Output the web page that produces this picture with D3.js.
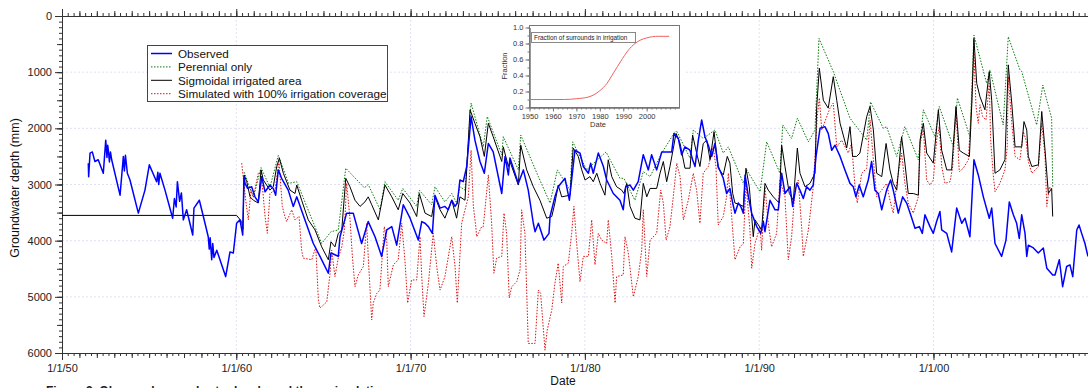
<!DOCTYPE html>
<html>
<head>
<meta charset="utf-8">
<script src="https://cdn.jsdelivr.net/npm/d3@7"></script>
<style>
  body { margin: 0; background: #fff; }
  svg { display: block; font-family: "Liberation Sans", Arial, sans-serif; }
</style>
</head>
<body>
<div id="chart"></div>
<script>
// series are [decimal year, depth in mm]
var observed = [
  [1951.51,2620],[1951.53,2860],[1951.61,2440],[1951.74,2420],[1951.89,2590],[1952.08,2560],[1952.37,2800],
  [1952.51,2210],[1952.58,2520],[1952.62,2300],[1952.66,2390],[1952.72,2600],[1952.78,2420],[1952.85,2560],
  [1953.33,3190],[1953.52,2500],[1953.58,2760],[1953.64,2480],[1953.75,2800],[1953.90,2920],[1954.38,3510],
  [1954.76,3100],[1955.01,2650],[1955.43,2950],[1955.50,2780],[1955.55,3000],[1955.62,2800],[1955.91,3100],
  [1956.35,3600],[1956.45,3250],[1956.55,3400],[1956.62,2950],[1956.75,3300],[1956.85,3150],[1956.96,3630],
  [1957.15,3450],[1957.50,3900],[1957.57,3420],[1957.88,3280],[1958.11,3570],[1958.39,3930],[1958.45,4150],
  [1958.50,3950],[1958.59,4340],[1958.65,4050],[1958.72,4300],[1958.88,4170],[1959.39,4640],[1959.64,4200],
  [1959.83,4220],[1960.02,3690],[1960.21,3630],[1960.37,3900],[1960.44,2860],
  [1960.50,2980],[1960.65,3070],[1960.88,3040],[1961.07,3220],[1961.26,3310],[1961.46,2860],[1961.65,3130],
  [1961.93,3010],[1962.12,3070],[1962.26,3190],[1962.41,2740],[1962.60,2890],[1962.98,3100],[1963.27,3390],
  [1963.47,3220],[1963.94,3630],[1964.42,4050],[1964.80,4280],[1965.28,4580],[1965.43,4220],[1965.66,4250],
  [1965.85,4280],[1965.95,3930],[1966.33,3510],[1966.71,3510],[1967.19,4050],[1967.57,3660],[1967.96,3930],
  [1968.34,4280],[1968.63,3810],[1968.92,3750],[1969.20,4080],[1969.58,3360],[1969.97,3600],[1970.44,3990],
  [1970.64,3660],[1970.83,3690],[1971.02,3750],[1971.25,3870],[1971.40,3190],[1971.69,3420],[1971.97,3390],
  [1972.16,3450],[1972.36,3280],[1972.55,3390],[1972.68,3330],[1972.83,2920],[1973.02,2950],[1973.22,2680],
  [1973.47,1790],[1973.69,2210],[1973.98,2590],[1974.23,2800],[1974.46,2270],[1974.74,2420],[1975.23,3160],
  [1975.42,2500],[1975.61,2830],[1975.70,2530],[1976.18,2980],[1976.47,2740],[1976.75,3100],[1977.04,3690],
  [1977.14,3840],[1977.33,3690],[1977.65,3990],[1977.94,3870],[1978.00,3570],[1978.28,3220],[1978.47,3040],
  [1978.86,2890],[1979.11,3280],[1979.43,2390],[1979.72,2440],[1979.91,2680],[1980.20,2800],[1980.33,2620],
  [1980.48,2800],[1980.77,2440],[1981.06,2680],[1981.25,2920],[1981.63,3160],[1982.01,3280],[1982.20,3450],
  [1982.34,3040],[1982.59,3010],[1982.78,3100],[1983.06,2950],[1983.35,2470],[1983.64,2740],[1983.83,2470],
  [1984.12,2740],[1984.41,2420],[1984.69,2420],[1984.98,2420],[1985.11,2090],[1985.36,2180],[1985.55,2470],
  [1985.74,2330],[1986.03,2390],[1986.18,2560],[1986.32,2680],[1986.51,2210],[1986.70,1850],[1986.89,2150],
  [1987.08,2300],[1987.28,2500],[1987.46,2270],[1987.65,2680],[1987.94,2890],[1988.13,3160],[1988.32,3070],
  [1988.48,3330],[1988.61,3510],[1988.80,3330],[1988.94,3390],[1989.09,3510],[1989.19,2830],[1989.38,3220],
  [1989.57,3510],[1989.86,3750],[1990.09,3870],[1990.24,3660],[1990.33,3840],[1990.62,3280],[1990.91,3450],
  [1991.10,3450],[1991.29,2800],[1991.48,3160],[1991.77,3040],[1991.92,3390],[1992.15,2980],[1992.34,3100],
  [1992.53,3250],[1992.72,3040],[1992.91,3100],[1993.10,3010],[1993.26,2500],[1993.49,2000],[1993.77,1970],
  [1993.96,2090],[1994.16,2390],[1994.35,2300],[1994.64,2500],[1994.92,2740],[1995.21,2980],[1995.40,3040],
  [1995.55,3220],[1995.74,3010],[1995.97,3220],[1996.26,2920],[1996.45,2590],[1996.64,3100],[1996.83,3160],
  [1997.03,3450],[1997.31,3100],[1997.54,2920],[1997.69,3100],[1997.98,3510],[1998.23,3220],[1998.46,3330],
  [1998.69,3540],[1998.94,3780],[1999.19,3750],[1999.36,3870],[1999.51,3540],[1999.80,3750],[1999.99,3870],
  [2000.18,3660],[2000.37,3480],[2000.47,3810],[2000.76,3870],[2001.04,4200],[2001.33,3420],[2001.62,3690],
  [2001.81,3600],[2002.09,3930],[2002.32,2560],[2002.57,2830],[2002.86,3220],[2003.20,3600],[2003.34,3420],
  [2003.53,4050],[2003.91,4280],[2004.16,3990],[2004.35,3310],[2004.58,3540],[2004.77,3690],[2004.92,3960],
  [2005.06,3540],[2005.25,3870],[2005.35,4280],[2005.44,4080],[2005.73,4130],[2006.01,4220],[2006.30,4130],
  [2006.50,4490],[2006.84,4610],[2006.97,4610],[2007.22,4340],[2007.41,4820],[2007.64,4460],[2007.83,4430],
  [2007.99,4640],[2008.22,3810],[2008.35,3720],[2008.50,3870],[2008.69,4050],[2008.86,4280]
];

var perennial = [
  [1960.45,2780],[1960.98,3230],[1961.42,2700],[1961.93,3050],[1962.41,2480],[1963.00,2980],[1963.47,2950],
  [1964.90,4050],[1965.43,3840],[1965.85,3810],[1966.28,2710],[1967.35,3060],[1967.57,3000],[1968.25,3450],
  [1968.53,2950],[1969.29,3280],[1969.55,3070],[1970.35,3390],[1970.50,3100],[1971.21,3360],[1971.40,3040],
  [1971.97,3310],[1972.36,3160],[1972.64,3330],[1972.83,3040],[1973.12,3100],[1973.47,1550],[1974.17,2330],
  [1974.40,1790],[1975.23,2470],[1975.32,2150],[1976.18,2740],[1976.32,2120],[1977.33,2860],[1978.00,3330],
  [1978.42,2740],[1979.15,3100],[1979.30,2240],[1980.10,2740],[1981.21,2420],[1982.01,2890],[1982.24,2890],
  [1982.87,3280],[1983.35,2770],[1983.74,2860],[1984.41,2440],[1985.23,2030],[1986.03,2530],[1986.22,2030],
  [1986.79,2180],[1987.46,2030],[1987.94,2440],[1988.23,2330],[1989.09,2980],[1989.28,2740],[1990.05,3130],
  [1990.43,2240],[1991.19,2800],[1991.35,1940],[1991.86,2180],[1992.19,1820],[1992.82,2240],[1993.20,2030],
  [1993.43,400],[1994.25,990],[1995.21,1820],[1996.17,2210],[1996.39,1530],[1997.12,2000],[1997.31,1970],
  [1997.89,2500],[1998.36,1970],[1999.13,2560],[1999.42,1670],[2000.09,2150],[2000.33,1610],[2001.14,2330],
  [2001.37,1460],[2002.09,2150],[2002.32,340],[2003.05,1200],[2003.24,960],[2004.00,1940],[2004.29,370],
  [2004.96,960],[2005.06,990],[2005.92,1940],[2006.27,1230],[2006.78,1820],[2006.84,3040]
];

var sigmoidal = [
  [1950.00,3550],[1960.02,3550],[1960.31,3660],[1960.38,3800],[1960.45,2830],[1960.60,2950],[1960.79,3220],
  [1960.98,3280],[1961.26,3330],[1961.42,2740],[1961.55,2920],[1961.74,3010],[1961.93,3100],[1962.12,3040],
  [1962.32,2680],[1962.47,2530],[1962.70,2800],[1963.08,3100],[1963.37,3160],[1963.47,3010],[1963.75,3280],
  [1964.13,3630],[1964.52,3810],[1964.90,4110],[1965.28,4340],[1965.43,4020],[1965.66,4110],[1965.85,3870],
  [1966.05,3810],[1966.28,2890],[1966.52,3040],[1966.81,3280],[1967.10,3390],[1967.38,3310],[1967.57,3220],
  [1967.77,3360],[1968.15,3630],[1968.53,3010],[1968.92,3220],[1969.29,3450],[1969.55,3160],[1969.97,3330],
  [1970.35,3570],[1970.50,3160],[1970.83,3510],[1971.21,3570],[1971.40,3220],[1971.69,3450],[1971.97,3600],
  [1972.36,3280],[1972.64,3600],[1972.83,3220],[1973.12,3280],[1973.41,1670],[1973.69,1910],[1973.98,2150],
  [1974.23,2500],[1974.46,1910],[1974.74,2150],[1975.23,2590],[1975.32,2330],[1975.61,2680],[1975.70,2590],
  [1976.18,3010],[1976.32,2300],[1976.66,2740],[1977.04,3040],[1977.42,3280],[1977.81,3600],[1978.10,3570],
  [1978.28,3330],[1978.47,3010],[1978.67,3220],[1979.15,3190],[1979.33,2350],[1979.62,2500],[1979.82,2740],
  [1980.01,2920],[1980.29,2860],[1980.48,2950],[1980.68,2800],[1980.87,2980],[1981.15,3190],[1981.34,2560],
  [1981.54,2860],[1981.82,3040],[1982.11,3100],[1982.24,3160],[1982.40,2980],[1982.59,3390],[1982.87,3600],
  [1983.16,3630],[1983.35,2980],[1983.55,3220],[1983.74,3070],[1984.12,3070],[1984.31,2800],[1984.50,2590],
  [1984.69,2950],[1984.88,2680],[1985.23,2090],[1985.46,2270],[1985.74,2710],[1986.03,2710],[1986.18,2120],
  [1986.41,2440],[1986.60,2680],[1986.79,2270],[1986.99,2210],[1987.18,2560],[1987.41,2060],[1987.65,2710],
  [1987.94,2830],[1988.17,2500],[1988.32,2620],[1988.48,3160],[1988.61,3330],[1988.90,3360],[1989.09,3390],
  [1989.24,2710],[1989.43,3040],[1989.57,3570],[1989.66,3930],[1989.76,3630],[1989.95,3720],[1990.14,3810],
  [1990.33,2980],[1990.52,3100],[1990.81,3220],[1991.15,3330],[1991.29,2300],[1991.48,2680],[1991.73,3160],
  [1991.96,3280],[1992.19,2350],[1992.34,2800],[1992.63,3040],[1992.91,2980],[1993.20,2800],[1993.30,1610],
  [1993.45,930],[1993.68,1500],[1993.96,1640],[1994.25,1080],[1994.45,1500],[1994.64,1910],[1995.02,2350],
  [1995.21,1970],[1995.36,2500],[1995.59,2500],[1995.78,2440],[1996.17,1790],[1996.36,1610],[1996.55,2030],
  [1996.74,2800],[1997.03,2860],[1997.28,2270],[1997.50,2740],[1997.69,2980],[1997.89,3100],[1998.17,2150],
  [1998.36,2620],[1998.55,3160],[1998.84,3160],[1999.13,3190],[1999.23,2210],[1999.42,1910],[1999.61,2440],
  [1999.99,2620],[2000.28,1670],[2000.47,2390],[2000.76,2740],[2001.04,2740],[2001.29,1610],[2001.48,2390],
  [2001.71,2440],[2002.06,2500],[2002.20,1550],[2002.32,400],[2002.48,1200],[2002.67,1440],[2002.95,1670],
  [2003.20,990],[2003.34,1500],[2003.53,2800],[2003.81,2740],[2004.10,2560],[2004.29,870],[2004.49,1550],
  [2004.68,2330],[2005.06,2330],[2005.19,1880],[2005.35,2030],[2005.44,2500],[2005.64,2680],[2006.02,2650],
  [2006.21,1700],[2006.40,2390],[2006.59,3160],[2006.78,3070],[2006.84,3570]
];

var fullIrrigation = [
  [1960.31,2620],[1960.54,3280],[1960.69,3630],[1960.84,3100],[1960.98,3220],[1961.26,2800],[1961.42,2770],
  [1961.65,3570],[1961.78,3870],[1961.93,3160],[1962.22,3100],[1962.45,2590],[1962.64,3390],[1962.79,3570],
  [1962.89,3660],[1963.18,3450],[1963.37,3630],[1963.60,3570],[1963.75,4170],[1963.84,4310],[1964.33,4340],
  [1964.56,4110],[1964.71,5060],[1964.80,5200],[1965.19,5090],[1965.38,4580],[1965.47,4170],[1965.66,4640],
  [1965.85,4310],[1966.05,4110],[1966.20,3810],[1966.33,2980],[1966.52,3600],[1966.66,4280],[1966.81,4820],
  [1967.00,4610],[1967.29,4460],[1967.48,3690],[1967.57,4280],[1967.77,5410],[1967.86,5110],[1968.06,4940],
  [1968.24,4880],[1968.49,3750],[1968.63,3990],[1968.72,4820],[1969.01,4430],[1969.29,4340],[1969.49,3690],
  [1969.68,4370],[1969.83,5110],[1970.06,4700],[1970.35,4700],[1970.54,3930],[1970.64,4640],[1970.77,5350],
  [1971.02,4760],[1971.30,3870],[1971.50,4460],[1971.69,4880],[1971.97,4640],[1972.36,3930],[1972.55,4460],
  [1972.68,5110],[1972.93,3690],[1973.31,3220],[1973.47,2390],[1973.60,3390],[1973.74,3750],[1973.79,3930],
  [1974.08,3750],[1974.17,3750],[1974.46,2830],[1974.65,3690],[1974.78,4580],[1974.94,4310],[1975.23,4280],
  [1975.36,3510],[1975.51,3870],[1975.66,5020],[1975.80,4820],[1976.09,4730],[1976.28,4520],[1976.37,3450],
  [1976.56,3870],[1976.75,5830],[1977.14,5830],[1977.33,4880],[1977.46,4940],[1977.71,5950],[1977.84,5590],
  [1978.10,5230],[1978.28,4760],[1978.47,4400],[1978.67,5110],[1978.76,4460],[1979.05,4400],[1979.24,3870],
  [1979.37,3390],[1979.53,4050],[1979.72,4730],[1979.91,4280],[1980.20,4280],[1980.39,3630],[1980.58,4430],
  [1980.77,3870],[1980.96,3990],[1981.25,4050],[1981.34,3630],[1981.54,4280],[1981.73,5110],[1981.82,4640],
  [1982.20,4610],[1982.30,3930],[1982.49,4220],[1982.78,5000],[1983.06,4640],[1983.26,4170],[1983.35,3450],
  [1983.55,4640],[1983.74,3990],[1984.12,3870],[1984.35,3100],[1984.50,3330],[1984.66,3990],[1984.88,3750],
  [1985.07,3220],[1985.27,2620],[1985.46,2860],[1985.65,3630],[1985.93,3280],[1986.22,2800],[1986.41,3100],
  [1986.60,3690],[1986.79,2800],[1987.08,2680],[1987.36,2330],[1987.52,2680],[1987.65,3720],[1987.94,3570],
  [1988.13,3220],[1988.23,2800],[1988.42,3570],[1988.61,4340],[1988.90,4110],[1989.09,4050],[1989.24,2980],
  [1989.47,3810],[1989.57,4490],[1989.76,4050],[1990.05,3750],[1990.14,4170],[1990.33,3040],[1990.52,3690],
  [1990.71,4110],[1991.00,3870],[1991.19,2920],[1991.48,3220],[1991.67,4340],[1991.86,3930],[1992.05,3100],
  [1992.24,2920],[1992.44,3780],[1992.53,4280],[1992.82,3810],[1993.10,3040],[1993.33,1790],[1993.45,1460],
  [1993.59,2030],[1994.06,1640],[1994.25,1550],[1994.45,2330],[1994.73,2210],[1995.11,2440],[1995.30,2270],
  [1995.50,3040],[1995.63,3330],[1995.88,2800],[1996.17,2710],[1996.36,1850],[1996.55,2560],[1996.74,3220],
  [1997.31,2980],[1997.50,3280],[1997.69,3510],[1997.89,2980],[1998.17,2440],[1998.36,2980],[1998.55,3330],
  [1998.84,3510],[1999.13,3220],[1999.23,2270],[1999.42,2030],[1999.61,2920],[1999.80,3010],[1999.99,2920],
  [2000.18,2210],[2000.33,1970],[2000.47,2680],[2000.66,2980],[2000.95,2950],[2001.10,2680],[2001.29,1670],
  [2001.48,2770],[2001.71,2710],[2002.00,2560],[2002.20,1500],[2002.32,660],[2002.44,1610],[2002.57,1910],
  [2002.67,1580],[2002.82,1790],[2003.01,1850],[2003.20,1200],[2003.28,2210],[2003.43,2830],[2003.53,3130],
  [2003.81,2980],[2004.10,2740],[2004.23,2330],[2004.29,1080],[2004.49,1910],[2004.68,2500],[2004.96,2560],
  [2005.15,2060],[2005.31,2210],[2005.44,2590],[2005.64,2800],[2006.02,2680],[2006.21,1910],[2006.40,2500],
  [2006.50,3390],[2006.65,3040],[2006.78,3100]
];

// inset: fraction of surrounds in irrigation
var fracYears  = [1950, 1955, 1960, 1965, 1970, 1975, 1980, 1983, 1986, 1989, 1992, 1995, 2000, 2005, 2009.6];
var fracValues = [0.10, 0.10, 0.10, 0.10, 0.11, 0.13, 0.21, 0.30, 0.44, 0.58, 0.71, 0.80, 0.87, 0.89, 0.89];

var decadeYears = [1950, 1960, 1970, 1980, 1990, 2000];
var depthTicks = [0, 1000, 2000, 3000, 4000, 5000, 6000];
var insetYearTicks = [1950, 1960, 1970, 1980, 1990, 2000];
var insetFracTicks = [0, 0.2, 0.4, 0.6, 0.8, 1.0];

var legendNames = ["Observed", "Perennial only", "Sigmoidal irrigated area", "Simulated with 100% irrigation coverage"];
var caption = "Figure 3. Observed groundwater levels and three simulations";

function toDate(yr) {
  var y0 = Math.floor(yr);
  var a = new Date(y0, 0, 1), b = new Date(y0 + 1, 0, 1);
  return new Date(+a + (yr - y0) * (b - a));
}

var width = 1088, height = 388;
var plot = {left: 62, top: 16, bottom: 353};

var svg = d3.select("#chart").append("svg")
  .attr("width", width).attr("height", height);

var x = d3.scaleTime()
  .domain([toDate(1950), toDate(2010)])
  .range([plot.left, plot.left + 6 * 174.3]);
var y = d3.scaleLinear().domain([0, 6000]).range([plot.top, plot.bottom]);

// grid
var grid = svg.append("g").attr("stroke", "#e0e0f7").attr("stroke-dasharray", "2,2");
grid.selectAll("line.v").data(decadeYears.slice(1)).enter().append("line")
  .attr("x1", function(d) { return x(toDate(d)); }).attr("x2", function(d) { return x(toDate(d)); })
  .attr("y1", plot.top).attr("y2", plot.bottom);
grid.selectAll("line.h").data(depthTicks.slice(1, 6)).enter().append("line")
  .attr("x1", plot.left).attr("x2", width)
  .attr("y1", function(d) { return y(d); }).attr("y2", function(d) { return y(d); });

// axes
var minorDates = d3.timeMonth.every(4).range(toDate(1950), toDate(2010.01));
var yearDates = d3.timeYear.range(toDate(1950), toDate(2010.01));
var decadeDates = decadeYears.map(toDate);
var fmt = d3.timeFormat("%-m/%-d/%y");

function styleAxis(g) {
  g.selectAll("path, line").attr("stroke", "#333");
  g.selectAll("text").attr("fill", "#222").style("font-size", "11px")
    .style("font-family", "'Liberation Sans', Arial, sans-serif");
}

[[d3.axisBottom, plot.bottom, true], [d3.axisTop, plot.top, false]].forEach(function(a) {
  var g = svg.append("g").attr("transform", "translate(0," + a[1] + ")");
  g.append("g").call(a[0](x).tickValues(minorDates).tickSize(3).tickSizeOuter(0).tickFormat(""));
  g.append("g").call(a[0](x).tickValues(yearDates).tickSize(5).tickSizeOuter(0).tickFormat(""));
  g.append("g").call(a[0](x).tickValues(decadeDates).tickSize(7).tickSizeOuter(0)
    .tickFormat(a[2] ? fmt : "").tickPadding(4));
  g.selectAll(".domain").filter(function(d, i) { return i > 0; }).remove();
  styleAxis(g);
});

var yAxis = svg.append("g").attr("transform", "translate(" + plot.left + ",0)");
yAxis.append("g").call(d3.axisLeft(y).tickValues(d3.range(0, 6001, 100)).tickSize(3).tickSizeOuter(0).tickFormat(""));
yAxis.append("g").call(d3.axisLeft(y).tickValues(d3.range(0, 6001, 500)).tickSize(5).tickSizeOuter(0).tickFormat(""));
yAxis.append("g").call(d3.axisLeft(y).tickValues(depthTicks).tickSize(7).tickSizeOuter(0)
  .tickFormat(d3.format("d")).tickPadding(3));
styleAxis(yAxis);

svg.append("text")
  .attr("transform", "translate(19,188) rotate(-90)")
  .attr("text-anchor", "middle").style("font-size", "12.5px").attr("fill", "#111")
  .text("Groundwater depth (mm)");
svg.append("text").attr("x", 563).attr("y", 385).attr("text-anchor", "middle")
  .style("font-size", "12px").attr("fill", "#111").text("Date");
svg.append("text").attr("x", 46).attr("y", 395)
  .style("font-size", "12px").style("font-weight", "bold").attr("fill", "#222").text(caption);

// series
svg.append("clipPath").attr("id", "clip").append("rect")
  .attr("x", plot.left).attr("y", plot.top).attr("width", width - plot.left).attr("height", plot.bottom - plot.top);

var line = d3.line()
  .x(function(d) { return x(toDate(d[0])); })
  .y(function(d) { return y(d[1]); });

var series = [
  {data: fullIrrigation, color: "#e01010", width: 1, dash: "1.5,1.5"},
  {data: perennial, color: "#0a7a0a", width: 1, dash: "1.5,1.5"},
  {data: sigmoidal, color: "#000", width: 1, dash: null},
  {data: observed, color: "#0000ff", width: 1.5, dash: null}
];
var lines = svg.append("g").attr("clip-path", "url(#clip)");
series.forEach(function(s) {
  lines.append("path").datum(s.data)
    .attr("fill", "none").attr("stroke", s.color).attr("stroke-width", s.width)
    .attr("stroke-dasharray", s.dash).attr("stroke-linejoin", "round")
    .attr("d", line);
});

// legend
var legendStyles = [series[3], series[1], series[2], series[0]];
var legend = svg.append("g");
legend.append("rect").attr("x", 147.5).attr("y", 45.5).attr("width", 240).attr("height", 56)
  .attr("fill", "#fff").attr("stroke", "#444");
legendNames.forEach(function(name, i) {
  var ly = 53.5 + i * 13.4;
  var st = legendStyles[i];
  legend.append("line").attr("x1", 151).attr("x2", 172).attr("y1", ly).attr("y2", ly)
    .attr("stroke", st.color).attr("stroke-width", st.width).attr("stroke-dasharray", st.dash);
  legend.append("text").attr("x", 178).attr("y", ly + 4.2).style("font-size", "11.7px")
    .attr("fill", "#111").text(name);
});

// inset
var inset = svg.append("g");
inset.append("rect").attr("x", 494).attr("y", 19).attr("width", 192).attr("height", 112).attr("fill", "#fff");
var ix = d3.scaleLinear().domain([1950, 2014]).range([529.5, 679.5]);
var iy = d3.scaleLinear().domain([0, 1]).range([107.5, 27.5]);

inset.append("rect").attr("x", 529.5).attr("y", 25.5).attr("width", 150).attr("height", 82)
  .attr("fill", "none").attr("stroke", "#777");

var ixAxis = inset.append("g").attr("transform", "translate(0,107.5)");
ixAxis.append("g").call(d3.axisBottom(ix).tickValues(d3.range(1950, 2013, 2)).tickSize(2).tickSizeOuter(0).tickFormat(""));
ixAxis.append("g").call(d3.axisBottom(ix).tickValues(insetYearTicks).tickSize(4).tickSizeOuter(0)
  .tickFormat(d3.format("d")).tickPadding(2));
var iyAxis = inset.append("g").attr("transform", "translate(529.5,0)");
iyAxis.append("g").call(d3.axisLeft(iy).tickValues(d3.range(0, 1.01, 0.1)).tickSize(2).tickSizeOuter(0).tickFormat(""));
iyAxis.append("g").call(d3.axisLeft(iy).tickValues(insetFracTicks).tickSize(4).tickSizeOuter(0)
  .tickFormat(d3.format(".1f")).tickPadding(2));
[ixAxis, iyAxis].forEach(function(g) {
  g.selectAll("path, line").attr("stroke", "#777");
  g.selectAll("text").attr("fill", "#333").style("font-size", "7.5px")
    .style("font-family", "'Liberation Sans', Arial, sans-serif");
});

inset.append("text").attr("transform", "translate(507,66) rotate(-90)").attr("text-anchor", "middle")
  .style("font-size", "7.5px").attr("fill", "#333").text("Fraction");
inset.append("text").attr("x", 598).attr("y", 127).attr("text-anchor", "middle")
  .style("font-size", "7.5px").attr("fill", "#333").text("Date");

inset.append("path").datum(d3.zip(fracYears, fracValues))
  .attr("fill", "none").attr("stroke", "#f06060").attr("stroke-width", 1)
  .attr("d", d3.line().curve(d3.curveMonotoneX)
    .x(function(d) { return ix(d[0]); }).y(function(d) { return iy(d[1]); }));

inset.append("rect").attr("x", 531.5).attr("y", 32.5).attr("width", 104).attr("height", 10)
  .attr("fill", "#fff").attr("stroke", "#888");
inset.append("text").attr("x", 534).attr("y", 40).style("font-size", "6.4px").attr("fill", "#222")
  .text("Fraction of surrounds in irrigation");
</script>
</body>
</html>
